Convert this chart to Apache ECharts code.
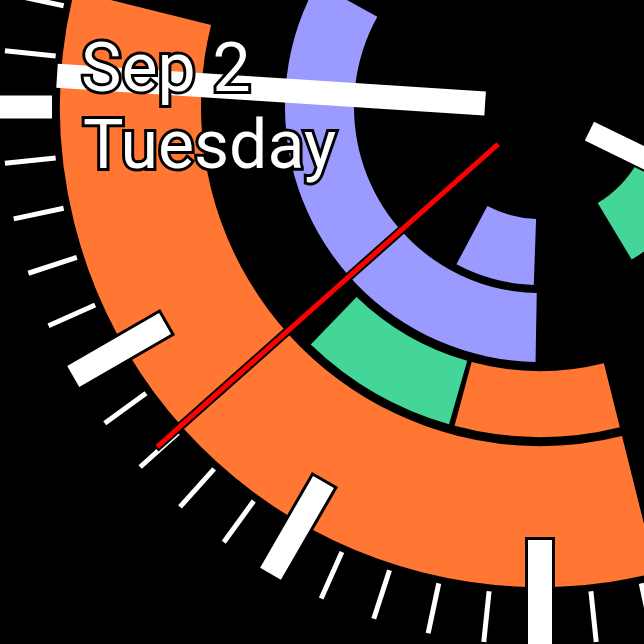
<!DOCTYPE html>
<html><head><meta charset="utf-8">
<script src="https://cdn.jsdelivr.net/npm/echarts@6/dist/echarts.min.js"></script>
<style>html,body{margin:0;padding:0;background:#000;}#c{width:644px;height:644px;}</style>
</head><body><div id="c"></div>
<script>
// ---- data (angles in degrees, clockwise from 12 o'clock) ----
const ringNames   = ['inner', 'second', 'third', 'outer'];
const segRing     = [0, 0, 1, 2, 2, 3];
const segStart    = [90, 182, 181, 166, 196, 166];
const segEnd      = [149, 208, 299, 195, 224, 284];
const segActivity = ['stand', 'exercise', 'exercise', 'move', 'stand', 'move'];
const handNames   = ['hour', 'minute', 'second'];
const handAngles  = [116, 273.7, 228.4];
const minuteTicks = Array.from({length: 60}, (_, i) => i);
const dateLabel   = 'Sep 2';
const dayLabel    = 'Tuesday';

// ---- styling / layout ----
const ACTIVITY_COLOR = {move: '#FF7733', exercise: '#9B9BFF', stand: '#43D698'};
const ACTIVITY_IDX = ['move', 'exercise', 'stand'];
const RING_R = [[112, 178], [186, 255], [264, 330], [339, 480]];

const chart = echarts.init(document.getElementById('c'), null, {renderer: 'canvas'});

function polarInfo(params, api, r, a) {
  const cs = params.coordSys;
  const p = api.coord([r, a]);
  return {p, cx: cs.cx, cy: cs.cy, rad: Math.hypot(p[0] - cs.cx, p[1] - cs.cy), ang: Math.atan2(p[1] - cs.cy, p[0] - cs.cx)};
}

function sectorItem(params, api) {
  const ring = api.value(0), a0 = api.value(1), a1 = api.value(2), k = api.value(3);
  const [ri, ro] = RING_R[ring];
  const o0 = polarInfo(params, api, ro, a0), o1 = polarInfo(params, api, ro, a1);
  const i0 = polarInfo(params, api, ri, a0);
  let s = o0.ang, e = o1.ang;
  while (e <= s) e += Math.PI * 2;
  return {type: 'sector', shape: {cx: o0.cx, cy: o0.cy, r0: i0.rad, r: o0.rad, startAngle: s, endAngle: e, clockwise: true},
    style: {fill: ACTIVITY_COLOR[ACTIVITY_IDX[k]]}};
}

function seg(params, api, a, r0, r1, w, color) {
  const p = api.coord([r0, a]), q = api.coord([r1, a]);
  return {type: 'line', shape: {x1: p[0], y1: p[1], x2: q[0], y2: q[1]}, style: {stroke: color, lineWidth: w, lineCap: 'butt'}};
}

function tickItem(params, api) {
  const m = api.value(0);
  const a = m * 6;
  if (m === 45) return seg(params, api, a, 488, 540, 23, '#fff');
  if (m % 5 === 0) {
    return {type: 'group', children: [seg(params, api, a, 430, 542, 30, '#000'), seg(params, api, a, 433, 539, 24, '#fff')]};
  }
  return seg(params, api, a, 487, 538, 5, '#fff');
}

function handItem(params, api) {
  const a = api.value(0), k = api.value(1);
  if (k === 0) return {type: 'group', children: [seg(params, api, a, 53, 300, 25, '#000'), seg(params, api, a, 55, 300, 21, '#fff')]};
  if (k === 1) return seg(params, api, a, 55, 484, 24, '#fff');
  return {type: 'group', children: [seg(params, api, a, 54, 514, 9, '#000'), seg(params, api, a, 56, 512, 5, '#ff0000')]};
}

const segData = segRing.map((r, i) => [r, segStart[i], segEnd[i], ACTIVITY_IDX.indexOf(segActivity[i])]);
const handData = handAngles.map((a, i) => [a, i]);

chart.setOption({
  backgroundColor: '#000',
  animation: false,
  polar: {center: [540, 107], radius: 560},
  angleAxis: {type: 'value', min: 0, max: 360, startAngle: 90, clockwise: true, show: false},
  radiusAxis: {type: 'value', min: 0, max: 560, show: false},
  series: [
    {type: 'custom', name: 'rings', coordinateSystem: 'polar', renderItem: sectorItem, data: segData, z: 1, silent: true},
    {type: 'custom', name: 'ticks', coordinateSystem: 'polar', renderItem: tickItem, data: minuteTicks.map(m => [m]), z: 2, silent: true},
    {type: 'custom', name: 'hands', coordinateSystem: 'polar', renderItem: handItem, data: handData, z: 3, silent: true}
  ],
  graphic: [
    {type: 'text', x: 81, y: 74, z: 100, style: {text: dateLabel, font: '68px Roboto', fill: '#fff', stroke: '#000', lineWidth: 6, strokeFirst: true, align: 'left', verticalAlign: 'middle'}},
    {type: 'text', x: 83, y: 151, z: 100, style: {text: dayLabel, font: '68px Roboto', fill: '#fff', stroke: '#000', lineWidth: 6, strokeFirst: true, align: 'left', verticalAlign: 'middle'}}
  ]
});
</script></body></html>
